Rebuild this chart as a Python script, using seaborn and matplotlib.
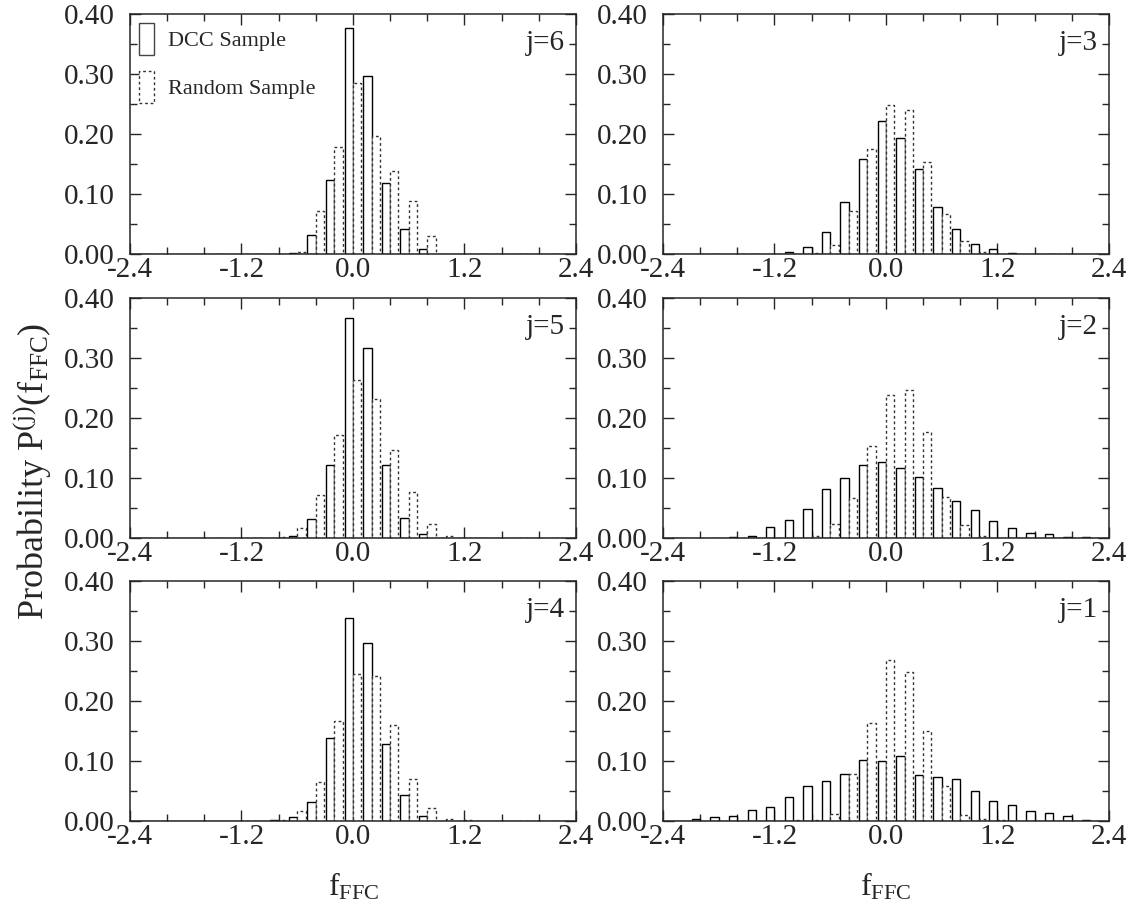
import pandas as pd
import matplotlib.pyplot as plt
import seaborn as sns
from matplotlib.patches import Patch
from matplotlib.ticker import MultipleLocator, FormatStrFormatter

# bin centres of f_FFC
f_bins = [-2.2, -2.0, -1.8, -1.6, -1.4, -1.2, -1.0, -0.8, -0.6, -0.4, -0.2, 0.0,
          0.2, 0.4, 0.6, 0.8, 1.0, 1.2, 1.4, 1.6, 1.8, 2.0, 2.2]

dcc_j6 = [0, 0, 0, 0, 0, 0, 0, 0, 0.002, 0.031, 0.123, 0.376,
          0.296, 0.119, 0.041, 0.008, 0, 0, 0, 0, 0, 0, 0]
rnd_j6 = [0, 0, 0, 0, 0, 0, 0, 0, 0.004, 0.072, 0.178, 0.285,
          0.196, 0.139, 0.089, 0.030, 0, 0, 0, 0, 0, 0, 0]

dcc_j5 = [0, 0, 0, 0, 0, 0, 0, 0, 0.004, 0.031, 0.121, 0.367,
          0.316, 0.122, 0.034, 0.006, 0, 0, 0, 0, 0, 0, 0]
rnd_j5 = [0, 0, 0, 0, 0, 0, 0, 0.001, 0.016, 0.072, 0.171, 0.263,
          0.232, 0.147, 0.076, 0.023, 0.003, 0, 0, 0, 0, 0, 0]

dcc_j4 = [0, 0, 0, 0, 0, 0, 0, 0.001, 0.006, 0.031, 0.139, 0.339,
          0.296, 0.129, 0.044, 0.009, 0, 0, 0, 0, 0, 0, 0]
rnd_j4 = [0, 0, 0, 0, 0, 0, 0, 0.002, 0.016, 0.065, 0.167, 0.245,
          0.241, 0.160, 0.070, 0.022, 0.004, 0.002, 0, 0, 0, 0, 0]

dcc_j3 = [0, 0, 0, 0, 0, 0, 0.004, 0.012, 0.036, 0.086, 0.158, 0.222,
          0.194, 0.142, 0.078, 0.041, 0.017, 0.008, 0.001, 0, 0, 0, 0]
rnd_j3 = [0, 0, 0, 0, 0, 0, 0, 0.001, 0.015, 0.072, 0.175, 0.249,
          0.240, 0.154, 0.067, 0.022, 0.004, 0, 0, 0, 0, 0, 0]

dcc_j2 = [0, 0, 0, 0.002, 0.004, 0.018, 0.030, 0.048, 0.081, 0.100, 0.121, 0.126,
          0.117, 0.102, 0.084, 0.061, 0.047, 0.029, 0.016, 0.009, 0.006, 0.002, 0.001]
rnd_j2 = [0, 0, 0, 0, 0, 0, 0, 0.004, 0.024, 0.066, 0.153, 0.239,
          0.247, 0.176, 0.068, 0.022, 0.004, 0, 0, 0, 0, 0, 0]

dcc_j1 = [0, 0.004, 0.007, 0.008, 0.018, 0.024, 0.040, 0.059, 0.067, 0.079, 0.102, 0.100,
          0.109, 0.076, 0.073, 0.070, 0.050, 0.034, 0.026, 0.017, 0.014, 0.008, 0.001]
rnd_j1 = [0, 0, 0, 0, 0, 0, 0.001, 0.001, 0.011, 0.078, 0.163, 0.269,
          0.249, 0.150, 0.059, 0.010, 0.003, 0.001, 0, 0, 0, 0, 0]

panels = [('j=6', dcc_j6, rnd_j6), ('j=3', dcc_j3, rnd_j3),
          ('j=5', dcc_j5, rnd_j5), ('j=2', dcc_j2, rnd_j2),
          ('j=4', dcc_j4, rnd_j4), ('j=1', dcc_j1, rnd_j1)]
samples = ['DCC Sample', 'Random Sample']

sns.set_style('ticks')
plt.rcParams['font.family'] = ['Liberation Serif', 'DejaVu Serif']
plt.rcParams['mathtext.fontset'] = 'custom'
plt.rcParams['mathtext.rm'] = 'Liberation Serif'
plt.rcParams['mathtext.it'] = 'Liberation Serif:italic'

fig = plt.figure(figsize=(11.36, 9.11), dpi=100)
lefts = [0.1144, 0.5836]
bottoms = [0.7212, 0.4094, 0.0988]
w, h = 0.3926, 0.2634

for i, (name, dcc, rnd) in enumerate(panels):
    ax = fig.add_axes([lefts[i % 2], bottoms[i // 2], w, h])
    df = pd.DataFrame({
        'f': f_bins * 2,
        'p': dcc + rnd,
        'sample': [samples[0]] * len(f_bins) + [samples[1]] * len(f_bins),
    })
    sns.barplot(data=df, x='f', y='p', hue='sample', hue_order=samples,
                native_scale=True, width=0.9, palette=['white', 'white'],
                edgecolor='black', linewidth=1.0, legend=False, ax=ax,
                errorbar=None)
    for bar in ax.containers[1]:
        bar.set_linestyle((0, (2, 2)))
        bar.set_edgecolor('#333333')

    ax.set_xlim(-2.4, 2.4)
    ax.set_ylim(0, 0.4)
    ax.xaxis.set_major_locator(MultipleLocator(1.2))
    ax.xaxis.set_minor_locator(MultipleLocator(0.4))
    ax.xaxis.set_major_formatter(FormatStrFormatter('%.1f'))
    ax.yaxis.set_major_locator(MultipleLocator(0.1))
    ax.yaxis.set_minor_locator(MultipleLocator(0.05))
    ax.yaxis.set_major_formatter(FormatStrFormatter('%.2f'))
    ax.tick_params(which='both', direction='in', top=True, right=True,
                   width=1.0, labelsize=21)
    ax.tick_params(axis='x', which='major', pad=2)
    ax.tick_params(axis='y', which='major', pad=11)
    ax.tick_params(which='major', length=8)
    ax.tick_params(which='minor', length=5)
    for sp in ax.spines.values():
        sp.set_linewidth(1.1)
    ax.set_xlabel('')
    ax.set_ylabel('')
    ax.text(0.975, 0.88, name, transform=ax.transAxes, ha='right', va='center',
            fontsize=21)

    if i == 0:
        handles = [Patch(facecolor='white', edgecolor='#444444', linewidth=1.0),
                   Patch(facecolor='white', edgecolor='#333333', linewidth=1.0,
                         linestyle=(0, (2, 2)))]
        ax.legend(handles, samples, loc='upper left', frameon=False, fontsize=16,
                  handlelength=0.7, handleheight=1.85, labelspacing=0.7,
                  handletextpad=0.6, borderaxespad=0.2, borderpad=0.2)

fig.text(0.029, 0.483, 'Probability P$^{\\mathrm{(j)}}$(f$_{\\mathrm{FFC}}$)',
         rotation=90, ha='center', va='center', fontsize=26)
fig.text(0.311, 0.027, 'f$_{\\mathrm{FFC}}$', ha='center', va='center', fontsize=23)
fig.text(0.780, 0.027, 'f$_{\\mathrm{FFC}}$', ha='center', va='center', fontsize=23)

plt.savefig('out.png', dpi=100)
